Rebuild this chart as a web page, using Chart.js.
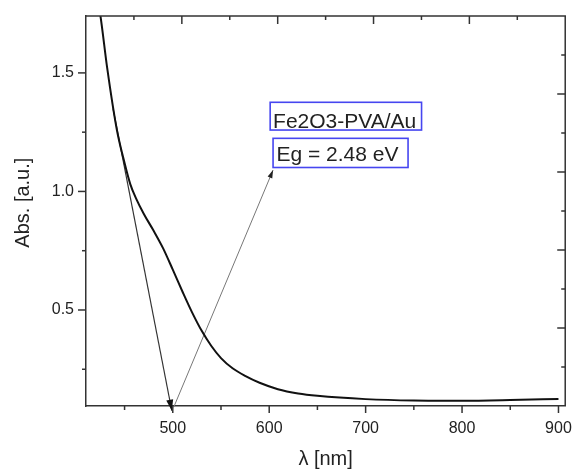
<!DOCTYPE html>
<html>
<head>
<meta charset="utf-8">
<script src="https://cdn.jsdelivr.net/npm/chart.js@4.4.1/dist/chart.umd.min.js"></script>
<style>
  html, body { margin: 0; padding: 0; background: #fff; }
</style>
</head>
<body>
<canvas id="chart" width="578" height="469"></canvas>
<script>
// wavelength (nm)
const wavelength = [418, 425, 432, 442, 450, 456, 462, 470, 480, 490, 500, 510, 520, 530, 540, 550, 562, 575, 590, 609, 630, 650, 700, 750, 800, 850, 900];
// absorbance (a.u.)
const absorbance = [1.90, 1.74, 1.52, 1.26, 1.12, 1.03, 0.97, 0.905, 0.835, 0.76, 0.67, 0.578, 0.49, 0.412, 0.348, 0.297, 0.254, 0.222, 0.193, 0.166, 0.148, 0.138, 0.124, 0.118, 0.117, 0.120, 0.125];

// axis ranges
const xRange = [410, 907];
const yRange = [0.095, 1.74];

// tangent arrow and band-gap arrow, in data units [λ, Abs]
const tangentArrow = [[438, 1.35], [499, 0.075]];
const gapArrow = [[501, 0.09], [604, 1.09]];

// label boxes, in data units
const labelBoxes = [
  { text: "Fe2O3-PVA/Au", x1: 601, x2: 758, top: 1.376, bottom: 1.259, tx: 604, ty: 1.269 },
  { text: "Eg = 2.48 eV", x1: 604, x2: 744, top: 1.224, bottom: 1.101, tx: 607.5, ty: 1.130 }
];

const FONT = "'Liberation Sans', Arial, sans-serif";
const INK = "#222";

function line(ctx, x1, y1, x2, y2) {
  ctx.beginPath();
  ctx.moveTo(x1, y1);
  ctx.lineTo(x2, y2);
  ctx.stroke();
}

function arrowHead(ctx, x1, y1, x2, y2, len, half) {
  const ang = Math.atan2(y2 - y1, x2 - x1);
  ctx.beginPath();
  ctx.moveTo(x2, y2);
  ctx.lineTo(x2 - len * Math.cos(ang) + half * Math.sin(ang), y2 - len * Math.sin(ang) - half * Math.cos(ang));
  ctx.lineTo(x2 - len * Math.cos(ang) - half * Math.sin(ang), y2 - len * Math.sin(ang) + half * Math.cos(ang));
  ctx.closePath();
  ctx.fill();
}

const arrowsPlugin = {
  id: "arrows",
  beforeDatasetsDraw(chart) {
    const { ctx, scales: { x, y } } = chart;
    ctx.save();
    // tangent line
    let p = tangentArrow.map(([a, b]) => [x.getPixelForValue(a), y.getPixelForValue(b)]);
    ctx.strokeStyle = "#333";
    ctx.fillStyle = "#111";
    ctx.lineWidth = 1.2;
    line(ctx, p[0][0], p[0][1], p[1][0], p[1][1]);
    arrowHead(ctx, p[0][0], p[0][1], p[1][0], p[1][1], 11, 3.5);
    // band gap arrow
    p = gapArrow.map(([a, b]) => [x.getPixelForValue(a), y.getPixelForValue(b)]);
    ctx.strokeStyle = "#777";
    ctx.fillStyle = "#222";
    ctx.lineWidth = 1;
    line(ctx, p[0][0], p[0][1], p[1][0], p[1][1]);
    arrowHead(ctx, p[0][0], p[0][1], p[1][0], p[1][1], 8, 2.5);
    ctx.restore();
  }
};

const framePlugin = {
  id: "frame",
  afterDraw(chart) {
    const { ctx, chartArea: a, scales } = chart;
    ctx.save();
    ctx.strokeStyle = "#333";
    ctx.lineWidth = 1.5;
    ctx.beginPath();
    ctx.moveTo(a.left, a.top);
    ctx.lineTo(a.right, a.top);
    ctx.lineTo(a.right, a.bottom);
    ctx.stroke();

    ctx.lineWidth = 1.5;
    // bottom ticks, outward
    scales.x.ticks.forEach(t => {
      const px = scales.x.getPixelForValue(t.value);
      const len = Math.round(t.value) % 100 === 0 ? 7 : 4;
      line(ctx, px, a.bottom, px, a.bottom + len);
    });
    // left ticks, outward
    scales.y.ticks.forEach(t => {
      const py = scales.y.getPixelForValue(t.value);
      const major = Math.abs(t.value * 2 - Math.round(t.value * 2)) < 1e-6;
      line(ctx, a.left - (major ? 8 : 4), py, a.left, py);
    });
    // top ticks, inward
    scales.x2.ticks.forEach(t => {
      if (t.value <= 0 || t.value >= 5) return;
      const px = scales.x2.getPixelForValue(t.value);
      const major = Math.abs(t.value - Math.round(t.value)) < 1e-6;
      line(ctx, px, a.top, px, a.top + (major ? 8 : 4));
    });
    // right ticks, inward
    scales.y2.ticks.forEach(t => {
      if (t.value <= 0 || t.value >= 5) return;
      const py = scales.y2.getPixelForValue(t.value);
      const major = Math.abs(t.value - Math.round(t.value)) < 1e-6;
      line(ctx, a.right - (major ? 8 : 4), py, a.right, py);
    });

    // label boxes
    const { x, y } = scales;
    labelBoxes.forEach(b => {
      const l = x.getPixelForValue(b.x1), r = x.getPixelForValue(b.x2);
      const t = y.getPixelForValue(b.top), btm = y.getPixelForValue(b.bottom);
      ctx.fillStyle = "#fff";
      ctx.fillRect(l, t, r - l, btm - t);
      ctx.strokeStyle = "#4646f0";
      ctx.lineWidth = 1.6;
      ctx.strokeRect(l, t, r - l, btm - t);
      ctx.fillStyle = INK;
      ctx.font = "21px " + FONT;
      ctx.textBaseline = "alphabetic";
      ctx.textAlign = "left";
      ctx.fillText(b.text, x.getPixelForValue(b.tx), y.getPixelForValue(b.ty));
    });
    ctx.restore();
  }
};

new Chart(document.getElementById("chart"), {
  type: "line",
  data: {
    datasets: [{
      data: wavelength.map((w, i) => ({ x: w, y: absorbance[i] })),
      borderColor: "#111",
      borderWidth: 2,
      pointRadius: 0,
      cubicInterpolationMode: "monotone",
      fill: false
    }]
  },
  options: {
    responsive: false,
    animation: false,
    layout: { padding: { top: 16, right: 8, left: 0, bottom: 0 } },
    plugins: { legend: { display: false }, tooltip: { enabled: false } },
    scales: {
      x: {
        type: "linear",
        position: "bottom",
        min: xRange[0],
        max: xRange[1],
        afterFit: s => { s.height = 63; },
        ticks: {
          stepSize: 50,
          includeBounds: false,
          maxRotation: 0,
          autoSkip: false,
          padding: 6,
          color: INK,
          font: { family: FONT, size: 16 },
          callback: v => (Math.round(v) % 100 === 0 ? String(v) : "")
        },
        grid: { drawOnChartArea: false, drawTicks: true, tickLength: 7, color: "rgba(0,0,0,0)" },
        border: { display: true, color: "#333", width: 1.5 },
        title: {
          display: true,
          text: "λ [nm]",
          color: INK,
          font: { family: FONT, size: 20, lineHeight: 1 },
          padding: { top: 0, bottom: 0 }
        }
      },
      y: {
        type: "linear",
        position: "left",
        min: yRange[0],
        max: yRange[1],
        afterFit: s => { s.width = 86; },
        ticks: {
          stepSize: 0.25,
          includeBounds: false,
          autoSkip: false,
          padding: 4,
          color: INK,
          font: { family: FONT, size: 16 },
          callback: v => (Math.abs(v * 2 - Math.round(v * 2)) < 1e-6 ? v.toFixed(1) : "")
        },
        grid: { drawOnChartArea: false, drawTicks: true, tickLength: 8, color: "rgba(0,0,0,0)" },
        border: { display: true, color: "#333", width: 1.5 },
        title: {
          display: true,
          // leading spaces nudge the label up a little, as in the original
          text: "\u00a0\u00a0\u00a0Abs. [a.u.]",
          color: INK,
          font: { family: FONT, size: 20, lineHeight: 1 },
          padding: { top: 13, bottom: 0 }
        }
      },
      x2: {
        type: "linear",
        position: "top",
        min: 0,
        max: 5,
        afterFit: s => { s.height = 0; },
        ticks: { display: false, stepSize: 0.5 },
        grid: { display: false },
        border: { display: false }
      },
      y2: {
        type: "linear",
        position: "right",
        min: 0,
        max: 5,
        afterFit: s => { s.width = 0; },
        ticks: { display: false, stepSize: 0.5 },
        grid: { display: false },
        border: { display: false }
      }
    }
  },
  plugins: [arrowsPlugin, framePlugin]
});
</script>
</body>
</html>
